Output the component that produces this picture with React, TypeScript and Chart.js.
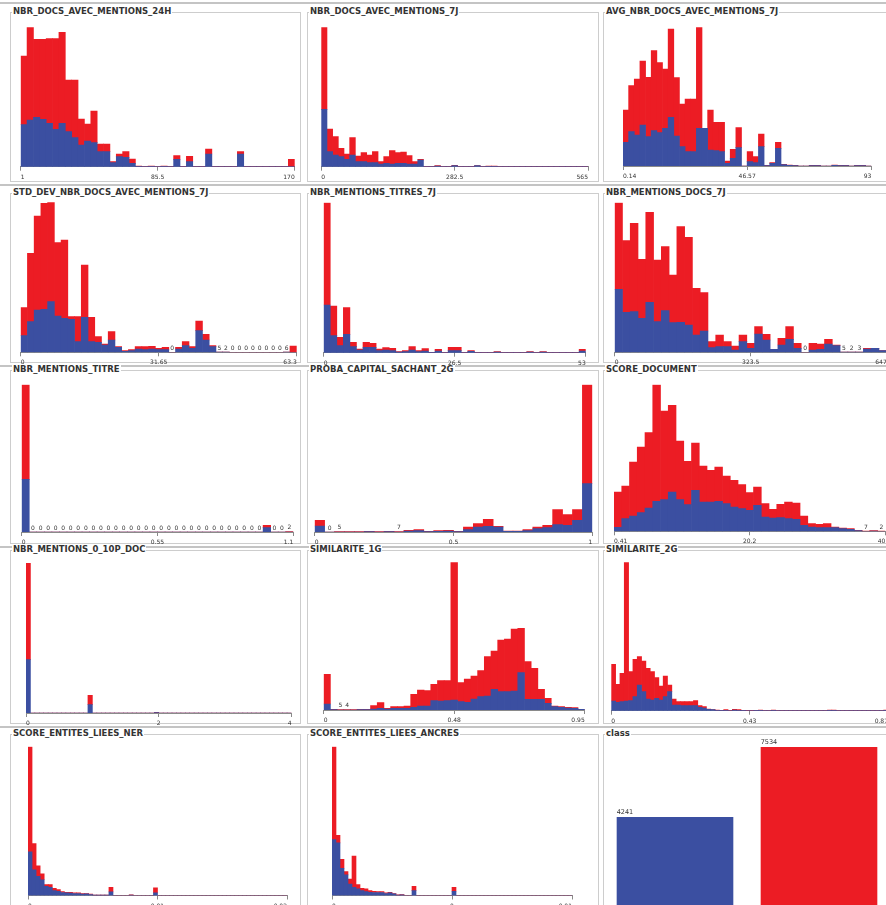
import React, { useEffect, useRef } from 'react';
import { Chart, registerables } from 'chart.js';

Chart.register(...registerables);

const FONT = '"DejaVu Sans", sans-serif';
Chart.defaults.font.family = FONT;

const BLUE = '#3b4fa1';
const RED = '#ec1c24';
const TEXT = '#333333';
const AXIS = '#8a8a8a';

// ---------------- data (blue = first class, red = second class) ----------------
// NBR_DOCS_AVEC_MENTIONS_24H
const docs24hBlue = [
  126, 140, 148, 142, 130, 112, 130, 105, 87, 65,
  77, 72, 45, 45, 12, 30, 28, 10, 1, 0,
  1, 0, 1, 0, 22, 0, 15, 0, 0, 38,
  0, 0, 0, 0, 38, 0, 0, 0, 0, 0,
  0, 0, 0];
const docs24hRed = [
  206, 278, 234, 240, 254, 272, 273, 155, 173, 78,
  51, 95, 23, 23, 3, 8, 17, 13, 1, 0,
  1, 0, 1, 0, 11, 0, 16, 0, 0, 15,
  0, 0, 0, 0, 7, 0, 0, 0, 0, 0,
  0, 0, 22];
const docs24hTicks = ['1', '85.5', '170'];

// NBR_DOCS_AVEC_MENTIONS_7J
const docs7jBlue = [
  172, 45, 35, 30, 22, 35, 15, 15, 12, 12,
  8, 10, 8, 10, 10, 8, 8, 20, 0, 0,
  2, 0, 0, 3, 0, 0, 0, 3, 0, 1,
  1, 0, 0, 0, 0, 0, 0, 0, 0, 0,
  0, 0, 0, 0, 0, 0, 0];
const docs7jRed = [
  246, 68, 55, 25, 16, 52, 17, 27, 23, 33,
  7, 20, 40, 32, 34, 25, 7, 2, 0, 0,
  1, 0, 0, 1, 0, 0, 0, 0, 0, 1,
  1, 0, 0, 0, 0, 0, 0, 0, 0, 0,
  0, 0, 0, 0, 0, 0, 0];
const docs7jTicks = ['0', '282.5', '565'];

// AVG_NBR_DOCS_AVEC_MENTIONS_7J
const avgBlue = [
  71, 103, 93, 123, 88, 106, 100, 113, 146, 90,
  58, 43, 43, 113, 113, 48, 46, 43, 8, 23,
  55, 0, 13, 10, 58, 1, 8, 53, 4, 2,
  1, 0, 0, 1, 1, 0, 0, 2, 1, 1,
  0, 1, 1, 0];
const avgRed = [
  97, 138, 168, 192, 178, 240, 210, 178, 265, 175,
  128, 158, 158, 303, 0, 120, 85, 88, 7, 27,
  60, 0, 30, 18, 38, 1, 2, 18, 1, 1,
  1, 0, 0, 1, 1, 0, 0, 1, 1, 1,
  0, 1, 1, 0];
const avgTicks = ['0.14', '46.57', '93'];

// STD_DEV_NBR_DOCS_AVEC_MENTIONS_7J
const stdBlue = [
  50, 92, 127, 129, 152, 109, 102, 99, 32, 105,
  32, 30, 22, 37, 15, 3, 5, 10, 8, 10,
  8, 8, 0, 10, 20, 12, 65, 37, 17, 1,
  1, 0, 0, 0, 0, 0, 0, 0, 0, 1,
  0];
const stdRed = [
  84, 205, 282, 318, 298, 220, 235, 8, 75, 157,
  73, 17, 3, 25, 2, 2, 3, 7, 9, 8,
  4, 7, 0, 5, 12, 5, 29, 17, 3, 0,
  0, 0, 0, 0, 0, 0, 0, 0, 0, 0,
  19];
const stdTicks = ['0', '31.65', '63.3'];
const stdNotes: [number, string][] = [
  [22, '0'], [29, '5'], [30, '2'], [31, '0'], [32, '0'], [33, '0'], [34, '0'],
  [35, '0'], [36, '0'], [37, '0'], [38, '0'], [39, '6']];

// NBR_MENTIONS_TITRES_7J
const titres7jBlue = [
  143, 51, 21, 55, 18, 8, 16, 16, 6, 8,
  6, 2, 3, 8, 3, 5, 1, 5, 0, 6,
  6, 0, 4, 0, 0, 0, 2, 0, 0, 0,
  0, 2, 0, 2, 0, 0, 0, 0, 0, 5];
const titres7jRed = [
  307, 89, 25, 80, 13, 3, 15, 12, 5, 7,
  7, 1, 3, 10, 3, 7, 0, 5, 0, 10,
  10, 0, 2, 0, 0, 0, 1, 0, 0, 0,
  0, 1, 0, 1, 0, 0, 0, 0, 0, 5];
const titres7jTicks = ['0', '26.5', '53'];

// NBR_MENTIONS_DOCS_7J
const docsMentBlue = [
  189, 120, 122, 102, 150, 92, 125, 89, 90, 82,
  52, 64, 14, 17, 17, 7, 32, 12, 55, 37,
  9, 22, 39, 12, 0, 7, 9, 25, 20, 1,
  1, 1, 10, 12, 5];
const docsMentRed = [
  260, 215, 265, 177, 270, 185, 192, 143, 287, 263,
  140, 115, 18, 35, 15, 12, 20, 15, 22, 17,
  0, 20, 38, 15, 0, 20, 16, 14, 2, 0,
  0, 0, 2, 0, 0];
const docsMentTicks = ['0', '323.5', '647'];
const docsMentNotes: [number, string][] = [[24, '0'], [29, '5'], [30, '2'], [31, '3']];

// NBR_MENTIONS_TITRE
const titreBlue = [
  158, 0, 0, 0, 0, 0, 0, 0, 0, 0,
  0, 0, 0, 0, 0, 0, 0, 0, 0, 0,
  0, 0, 0, 0, 0, 0, 0, 0, 0, 0,
  0, 0, 13, 0, 0, 0];
const titreRed = [
  284, 0, 0, 0, 0, 0, 0, 0, 0, 0,
  0, 0, 0, 0, 0, 0, 0, 0, 0, 0,
  0, 0, 0, 0, 0, 0, 0, 0, 0, 0,
  0, 0, 7, 0, 0, 1];
const titreTicks = ['0', '0.55', '1.1'];
const titreNotes: [number, string][] = [
  [1, '0'], [2, '0'], [3, '0'], [4, '0'], [5, '0'], [6, '0'], [7, '0'], [8, '0'],
  [9, '0'], [10, '0'], [11, '0'], [12, '0'], [13, '0'], [14, '0'], [15, '0'], [16, '0'],
  [17, '0'], [18, '0'], [19, '0'], [20, '0'], [21, '0'], [22, '0'], [23, '0'], [24, '0'],
  [25, '0'], [26, '0'], [27, '0'], [28, '0'], [29, '0'], [30, '0'], [31, '0'],
  [33, '0'], [34, '0'], [35, '2']];

// PROBA_CAPITAL_SACHANT_2G
const probaBlue = [
  18, 0, 0, 0, 0, 1, 0, 1, 0, 3,
  4, 1, 2, 3, 1, 7, 15, 17, 15, 2,
  2, 4, 10, 13, 22, 20, 35, 145];
const probaRed = [
  17, 0, 1, 1, 1, 1, 1, 1, 1, 2,
  3, 1, 2, 2, 1, 8, 10, 21, 2, 1,
  1, 3, 5, 7, 45, 32, 32, 297];
const probaTicks = ['0', '0.5', '1'];
const probaNotes: [number, string][] = [[1, '0'], [2, '5'], [8, '7']];

// SCORE_DOCUMENT
const scoreDocBlue = [
  12, 38, 46, 56, 70, 90, 95, 118, 95, 80,
  123, 88, 88, 90, 83, 73, 68, 63, 78, 43,
  40, 41, 38, 36, 18, 13, 11, 11, 11, 8,
  6, 2, 0, 1, 0];
const scoreDocRed = [
  106, 98, 162, 197, 226, 350, 266, 260, 176, 130,
  142, 108, 95, 103, 83, 80, 72, 53, 55, 40,
  26, 40, 50, 49, 28, 10, 10, 12, 2, 2,
  2, 1, 1, 1, 1];
const scoreDocTicks = ['0.41', '20.2', '40'];
const scoreDocNotes: [number, string][] = [[32, '7'], [34, '2']];

// NBR_MENTIONS_0_10P_DOC
const m010Blue = [
  160, 0, 0, 0, 0, 0, 0, 0, 0, 0,
  0, 0, 0, 0, 25, 0, 0, 0, 0, 0,
  0, 0, 0, 0, 0, 0, 0, 0, 0, 1,
  0, 0, 0, 0, 0, 0, 0, 0, 0, 0,
  0, 0, 0, 0, 0, 0, 0, 0, 0, 0,
  0, 0, 0, 0, 0, 0, 0, 0, 0, 0];
const m010Red = [
  290, 0, 0, 0, 0, 0, 0, 0, 0, 0,
  0, 0, 0, 0, 28, 0, 0, 0, 0, 0,
  0, 0, 0, 0, 0, 0, 0, 0, 0, 1,
  0, 0, 0, 0, 0, 0, 0, 0, 0, 0,
  0, 0, 0, 0, 0, 0, 0, 0, 0, 0,
  0, 0, 0, 0, 0, 0, 0, 0, 0, 0];
const m010Ticks = ['0', '2', '4'];

// SIMILARITE_1G
const sim1Blue = [
  18, 1, 0, 0, 0, 1, 1, 3, 5, 3,
  5, 5, 5, 8, 12, 12, 28, 27, 28, 30,
  25, 23, 33, 40, 42, 62, 55, 55, 57, 112,
  32, 32, 32, 20, 10, 8, 6, 5, 2];
const sim1Red = [
  89, 1, 1, 1, 1, 1, 1, 10, 17, 2,
  5, 5, 7, 39, 48, 46, 49, 61, 60, 413,
  57, 70, 69, 78, 118, 115, 155, 158, 186, 133,
  113, 93, 30, 15, 2, 2, 2, 2, 0];
const sim1Ticks = ['0', '0.48', '0.95'];
const sim1Notes: [number, string][] = [[2, '5'], [3, '4']];

// SIMILARITE_2G
const sim2Blue = [
  29, 25, 27, 29, 30, 42, 77, 57, 35, 32,
  37, 32, 42, 57, 17, 17, 15, 15, 15, 15,
  10, 8, 4, 3, 1, 1, 1, 0, 2, 1,
  1, 0, 0, 1, 1, 0, 0, 1, 0, 0,
  0, 0, 0, 0, 0, 0, 0, 0, 0, 0,
  1, 1, 0, 0, 0, 0, 0, 0, 0, 0,
  0, 0, 0, 1];
const sim2Red = [
  110, 54, 85, 416, 87, 112, 85, 92, 92, 85,
  62, 42, 62, 20, 18, 10, 12, 12, 12, 15,
  5, 4, 1, 0, 1, 0, 2, 1, 2, 2,
  0, 1, 1, 0, 1, 0, 0, 1, 0, 0,
  0, 0, 0, 0, 0, 0, 0, 0, 0, 0,
  1, 1, 0, 0, 0, 0, 0, 0, 0, 0,
  0, 0, 0, 1];
const sim2Ticks = ['0', '0.43', '0.87'];

// SCORE_ENTITES_LIEES_NER
const nerBlue = [
  133, 78, 58, 48, 28, 25, 15, 13, 9, 8,
  7, 6, 6, 4, 5, 3, 1, 1, 1, 1,
  11, 0, 0, 0, 0, 1, 0, 0, 0, 0,
  0, 8, 0, 0, 0, 0, 0, 0, 0, 0,
  0, 0, 0, 0, 0, 0, 0, 0, 0, 0,
  0, 0, 0, 0, 0, 0, 0, 0, 0, 0,
  0, 0, 0, 0];
const nerRed = [
  320, 80, 32, 18, 5, 8, 7, 5, 3, 2,
  3, 2, 2, 2, 1, 1, 0, 0, 0, 0,
  14, 0, 0, 0, 0, 1, 0, 0, 0, 0,
  0, 15, 0, 0, 0, 0, 0, 0, 0, 0,
  0, 0, 0, 0, 0, 0, 0, 0, 0, 0,
  0, 0, 0, 0, 0, 0, 0, 0, 0, 0,
  0, 0, 0, 0];
const nerTicks = ['0', '0.01', '0.02'];

// SCORE_ENTITES_LIEES_ANCRES
const ancresBlue = [
  170, 160, 83, 63, 35, 25, 20, 15, 12, 10,
  9, 9, 9, 6, 8, 5, 1, 2, 0, 0,
  15, 0, 0, 0, 0, 0, 0, 0, 0, 0,
  13, 0, 0, 0, 0, 0, 0, 0, 0, 0,
  0, 0, 0, 0, 0, 0, 0, 0, 0, 0,
  0, 0, 0, 0, 0, 0, 0, 0, 0, 0];
const ancresRed = [
  283, 23, 27, 10, 15, 95, 13, 7, 8, 5,
  4, 3, 3, 2, 2, 1, 1, 1, 0, 0,
  13, 0, 0, 0, 0, 0, 0, 0, 0, 0,
  12, 0, 0, 0, 0, 0, 0, 0, 0, 0,
  0, 0, 0, 0, 0, 0, 0, 0, 0, 0,
  0, 0, 0, 0, 0, 0, 0, 0, 0, 0];
const ancresTicks = ['0', '0', '0.01'];

// class
const classNames = ['0', '1'];
const classCounts = [4241, 7534];

// ---------------- layout ----------------
interface HistCfg {
  title: string;
  blue: number[];
  red: number[];
  ticks: string[];
  notes: [number, string][];
  frame: number[]; // left, top, right, bottom
  axis: number[]; // x start, x end, top of tallest bar, baseline
}

const PANELS: HistCfg[] = [
  { title: 'NBR_DOCS_AVEC_MENTIONS_24H', blue: docs24hBlue, red: docs24hRed, ticks: docs24hTicks, notes: [], frame: [10, 12, 301, 182], axis: [20.7, 294.7, 27.3, 166.7] },
  { title: 'NBR_DOCS_AVEC_MENTIONS_7J', blue: docs7jBlue, red: docs7jRed, ticks: docs7jTicks, notes: [], frame: [307, 12, 599, 182], axis: [321.3, 588, 27.3, 166.7] },
  { title: 'AVG_NBR_DOCS_AVEC_MENTIONS_7J', blue: avgBlue, red: avgRed, ticks: avgTicks, notes: [], frame: [603, 12, 892, 182], axis: [623, 871.3, 27.3, 166] },
  { title: 'STD_DEV_NBR_DOCS_AVEC_MENTIONS_7J', blue: stdBlue, red: stdRed, ticks: stdTicks, notes: stdNotes, frame: [10, 193, 301, 363], axis: [20.7, 296.7, 202.3, 352.3] },
  { title: 'NBR_MENTIONS_TITRES_7J', blue: titres7jBlue, red: titres7jRed, ticks: titres7jTicks, notes: [], frame: [307, 193, 599, 363], axis: [323.7, 585.7, 202.7, 352.7] },
  { title: 'NBR_MENTIONS_DOCS_7J', blue: docsMentBlue, red: docsMentRed, ticks: docsMentTicks, notes: docsMentNotes, frame: [603, 193, 892, 363], axis: [614.7, 886.7, 202.7, 352.3] },
  { title: 'NBR_MENTIONS_TITRE', blue: titreBlue, red: titreRed, ticks: titreTicks, notes: titreNotes, frame: [10, 370, 301, 544], axis: [21.7, 293.3, 384.7, 532] },
  { title: 'PROBA_CAPITAL_SACHANT_2G', blue: probaBlue, red: probaRed, ticks: probaTicks, notes: probaNotes, frame: [307, 370, 599, 544], axis: [314.7, 592.3, 384.7, 532] },
  { title: 'SCORE_DOCUMENT', blue: scoreDocBlue, red: scoreDocRed, ticks: scoreDocTicks, notes: scoreDocNotes, frame: [603, 370, 892, 544], axis: [614, 885.3, 384.7, 531.3] },
  { title: 'NBR_MENTIONS_0_10P_DOC', blue: m010Blue, red: m010Red, ticks: m010Ticks, notes: [], frame: [10, 550, 301, 724], axis: [26, 291.5, 563, 713] },
  { title: 'SIMILARITE_1G', blue: sim1Blue, red: sim1Red, ticks: sim1Ticks, notes: sim1Notes, frame: [307, 550, 599, 724], axis: [323.7, 584.7, 562.3, 710] },
  { title: 'SIMILARITE_2G', blue: sim2Blue, red: sim2Red, ticks: sim2Ticks, notes: [], frame: [603, 550, 892, 724], axis: [611.3, 888, 562.3, 710.7] },
  { title: 'SCORE_ENTITES_LIEES_NER', blue: nerBlue, red: nerRed, ticks: nerTicks, notes: [], frame: [10, 734, 301, 915], axis: [28, 287, 746.7, 895.5] },
  { title: 'SCORE_ENTITES_LIEES_ANCRES', blue: ancresBlue, red: ancresRed, ticks: ancresTicks, notes: [], frame: [307, 734, 599, 915], axis: [332, 572, 746.7, 895.5] },
];

const CLASS_FRAME = [603, 734, 892, 915];
const SEPARATORS = [2, 184, 365, 546, 726];

const SIDE = 4;
const TICK_LEN = 4;
const TICK_PAD = 3;
const TICK_FONT = 6;
const AXIS_H = TICK_LEN + 2 * TICK_PAD + TICK_FONT * 1.2;

function Frame({ frame, title }: { frame: number[]; title: string }) {
  const [l, t, r, b] = frame;
  return (
    <>
      <div style={{ position: 'absolute', left: l, top: t, width: r - l, height: b - t, border: '1px solid #cdcdcd', boxSizing: 'border-box' }} />
      <div style={{ position: 'absolute', left: l + 2, top: t - 6, height: 12, lineHeight: '12px', padding: '0 1px', background: '#fff', font: `bold 8.5px ${FONT}`, color: TEXT, whiteSpace: 'nowrap' }}>{title}</div>
    </>
  );
}

function Histogram({ cfg }: { cfg: HistCfg }) {
  const ref = useRef<HTMLCanvasElement | null>(null);
  const [x0, x1, yTop, yBase] = cfg.axis;
  const left = Math.floor(x0) - SIDE;
  const right = Math.ceil(x1) + SIDE;
  const top = Math.floor(yTop) - 2;
  const bottom = Math.ceil(yBase + AXIS_H) + 1;
  const w = right - left;
  const h = bottom - top;

  useEffect(() => {
    const canvas = ref.current;
    if (!canvas) return;
    const n = cfg.blue.length;
    const totals = cfg.blue.map((b, i) => b + cfg.red[i]);
    const yMax = Math.max(...totals);
    const pts = (arr: number[]) => arr.map((v, i) => ({ x: i + 0.5, y: v }));
    const notesPlugin = {
      id: 'binNotes',
      afterDatasetsDraw(chart: any) {
        const ctx = chart.ctx;
        const xs = chart.scales.x;
        const ys = chart.scales.y;
        ctx.save();
        ctx.font = `${TICK_FONT}px ${FONT}`;
        ctx.fillStyle = TEXT;
        ctx.textAlign = 'center';
        ctx.textBaseline = 'bottom';
        cfg.notes.forEach(([i, txt]) => {
          ctx.fillText(txt, xs.getPixelForValue(i + 0.5), ys.getPixelForValue(totals[i]) - 1);
        });
        ctx.restore();
      },
    };
    const chart = new Chart(canvas, {
      type: 'bar',
      data: {
        datasets: [
          { label: 'blue', data: pts(cfg.blue), backgroundColor: BLUE, borderWidth: 0, barPercentage: 1, categoryPercentage: 1 },
          { label: 'red', data: pts(cfg.red), backgroundColor: RED, borderWidth: 0, barPercentage: 1, categoryPercentage: 1 },
        ],
      } as any,
      options: {
        animation: false,
        responsive: false,
        devicePixelRatio: 1,
        events: [],
        layout: { padding: { left: x0 - left, right: right - x1, top: yTop - top, bottom: bottom - yBase - AXIS_H } },
        plugins: { legend: { display: false }, tooltip: { enabled: false }, title: { display: false } },
        scales: {
          x: {
            type: 'linear',
            min: 0,
            max: n,
            stacked: true,
            offset: false,
            afterBuildTicks: (axis: any) => {
              axis.ticks = [0, n / 2, n].map((v) => ({ value: v }));
            },
            ticks: {
              autoSkip: false,
              maxRotation: 0,
              minRotation: 0,
              align: 'inner',
              padding: TICK_PAD,
              color: TEXT,
              font: { family: FONT, size: TICK_FONT, lineHeight: 1.2 },
              callback: (_v: any, i: number) => cfg.ticks[i],
            },
            grid: { display: true, offset: false, drawOnChartArea: false, drawTicks: true, tickLength: TICK_LEN, color: AXIS, lineWidth: 1 },
            border: { display: true, color: AXIS, width: 1 },
          },
          y: { type: 'linear', display: false, stacked: true, min: 0, max: yMax },
        },
      } as any,
      plugins: [notesPlugin],
    });
    return () => chart.destroy();
  }, []);

  return <canvas ref={ref} width={w} height={h} style={{ position: 'absolute', left, top, width: w, height: h }} />;
}

function ClassChart() {
  const ref = useRef<HTMLCanvasElement | null>(null);
  const left = 603;
  const top = 737;
  const w = 288;
  const h = 170;
  useEffect(() => {
    const canvas = ref.current;
    if (!canvas) return;
    const labelPlugin = {
      id: 'classLabels',
      afterDatasetsDraw(chart: any) {
        const ctx = chart.ctx;
        const meta = chart.getDatasetMeta(0);
        ctx.save();
        ctx.font = `6.5px ${FONT}`;
        ctx.fillStyle = TEXT;
        ctx.textAlign = 'left';
        ctx.textBaseline = 'bottom';
        meta.data.forEach((bar: any, i: number) => {
          ctx.fillText(String(classCounts[i]), bar.x - bar.width / 2, bar.y - 1);
        });
        ctx.restore();
      },
    };
    const chart = new Chart(canvas, {
      type: 'bar',
      data: {
        labels: classNames,
        datasets: [{ data: classCounts, backgroundColor: [BLUE, RED], borderWidth: 0, barPercentage: 0.81, categoryPercentage: 1 }],
      },
      options: {
        animation: false,
        responsive: false,
        devicePixelRatio: 1,
        events: [],
        layout: { padding: { left: 0, right: 0, top: 10, bottom: 0 } },
        plugins: { legend: { display: false }, tooltip: { enabled: false } },
        scales: {
          x: { display: false },
          y: { display: false, min: 0, max: Math.max(...classCounts) },
        },
      } as any,
      plugins: [labelPlugin],
    });
    return () => chart.destroy();
  }, []);
  return <canvas ref={ref} width={w} height={h} style={{ position: 'absolute', left, top, width: w, height: h }} />;
}

export default function App() {
  return (
    <div style={{ position: 'absolute', left: 0, top: 0, width: 886, height: 905, overflow: 'hidden', background: '#ffffff' }}>
      {SEPARATORS.map((y) => (
        <div key={'sep' + y} style={{ position: 'absolute', left: 0, top: y, width: 886, height: 2, background: '#c4c4c4' }} />
      ))}
      {PANELS.map((p) => (
        <Frame key={'f' + p.title} frame={p.frame} title={p.title} />
      ))}
      <Frame frame={CLASS_FRAME} title="class" />
      {PANELS.map((p) => (
        <Histogram key={'h' + p.title} cfg={p} />
      ))}
      <ClassChart />
    </div>
  );
}
